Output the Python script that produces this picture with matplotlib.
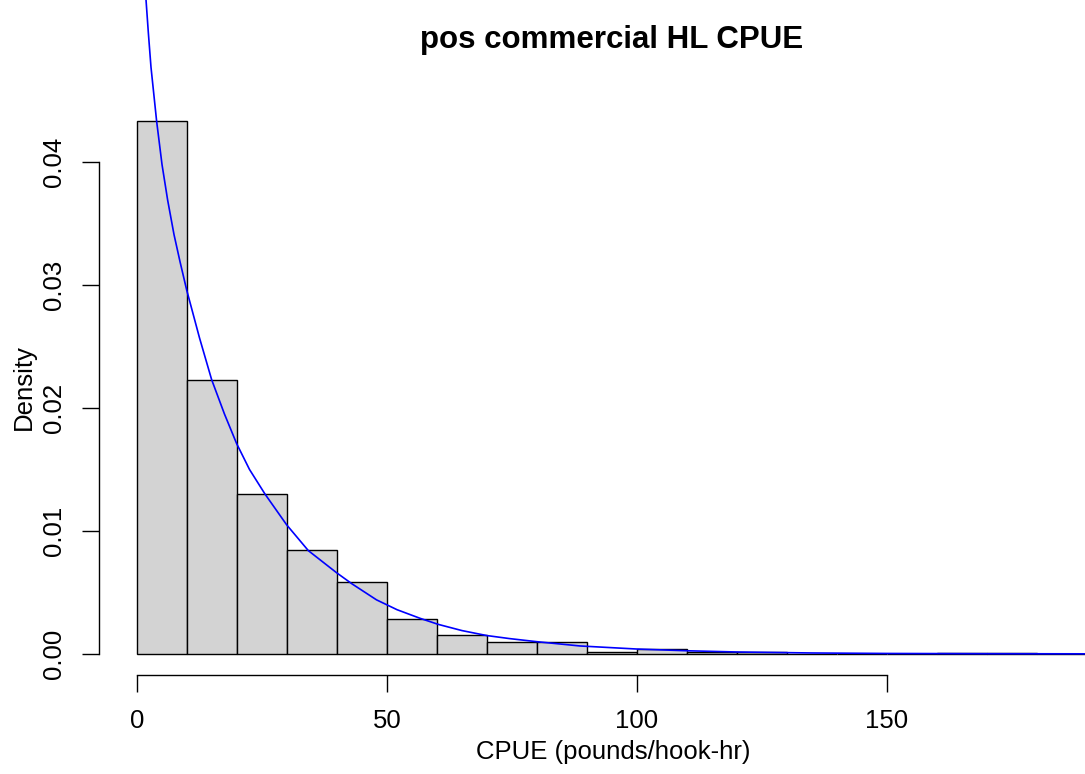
import numpy as np
import matplotlib
matplotlib.use("Agg")
import matplotlib.pyplot as plt

plt.rcParams['font.family'] = ['Liberation Sans', 'DejaVu Sans']

# histogram bins (CPUE, width 10) and densities
bin_edges = [0, 10, 20, 30, 40, 50, 60, 70, 80, 90, 100, 110, 120, 130,
             140, 150, 160, 170, 180, 190]
densities = [0.0433, 0.0223, 0.0130, 0.00843, 0.00583, 0.00285, 0.00152,
             0.00098, 0.00095, 0.00020, 0.00037, 0.00013, 0.00013, 0.00002,
             0.0, 0.00002, 0.00004, 0.00004, 0.00002]

# fitted density curve
curve_x = [1.6, 1.8, 2.27, 2.8, 3.93, 5.0, 6.13, 7.4, 8.6, 9.93, 12.5, 14.93,
           17.5, 19.93, 22.5, 25.6, 29.93, 34.27, 39.93, 43.0, 47.9, 52.0,
           56.6, 60.3, 65.0, 69.9, 74.5, 79.9, 88.6, 100, 110, 120, 135, 150,
           170, 190]
curve_y = [0.0545, 0.0532, 0.0505, 0.0477, 0.0433, 0.0398, 0.0369, 0.0341,
           0.0319, 0.0296, 0.0257, 0.0223, 0.0195, 0.0171, 0.0150, 0.0130,
           0.0105, 0.0084, 0.0066, 0.0057, 0.0044, 0.0036, 0.0029, 0.0024,
           0.0019, 0.0015, 0.00125, 0.0010, 0.00065, 0.00040, 0.00026,
           0.00016, 0.00008, 0.00004, 0.00002, 0.00001]

x_ticks = [0, 50, 100, 150]
y_ticks = [0.00, 0.01, 0.02, 0.03, 0.04]

fig = plt.figure(figsize=(10.85, 7.74), dpi=100)
ax = fig.add_axes([99.3 / 1085, 99.5 / 774, 1 - 99.3 / 1085, 1 - 99.5 / 774])

lefts = bin_edges[:-1]
widths = np.diff(bin_edges)
ax.bar(lefts, densities, width=widths, align='edge', color='#D3D3D3',
       edgecolor='black', linewidth=1.0)
ax.plot(curve_x, curve_y, color='blue', linewidth=1.2)

ax.set_xlim(-7.54, 189.6)
ax.set_ylim(-0.00167, 0.05317)

for side in ['top', 'right']:
    ax.spines[side].set_visible(False)
ax.spines['left'].set_bounds(0, 0.04)
ax.spines['bottom'].set_bounds(0, 150)
ax.spines['left'].set_linewidth(1.0)
ax.spines['bottom'].set_linewidth(1.0)

ax.set_xticks(x_ticks)
ax.set_xticklabels([str(t) for t in x_ticks])
ax.set_yticks(y_ticks)
ax.set_yticklabels(['%.2f' % t for t in y_ticks], rotation=90, va='center')
ax.tick_params(direction='out', length=12, width=1.0, labelsize=18.5)
ax.tick_params(axis='x', pad=13)
ax.tick_params(axis='y', pad=12)

fig.text(612 / 1085, 1 - 40 / 774, 'pos commercial HL CPUE', fontsize=22.5,
         fontweight='bold', ha='center', va='center')
fig.text(613 / 1085, 1 - 752 / 774, 'CPUE (pounds/hook-hr)', fontsize=18.5,
         ha='center', va='center')
fig.text(24 / 1085, 1 - 387 / 774, 'Density', fontsize=18.5, rotation=90,
         ha='center', va='center')

fig.savefig('out.png', dpi=100, facecolor='white')
